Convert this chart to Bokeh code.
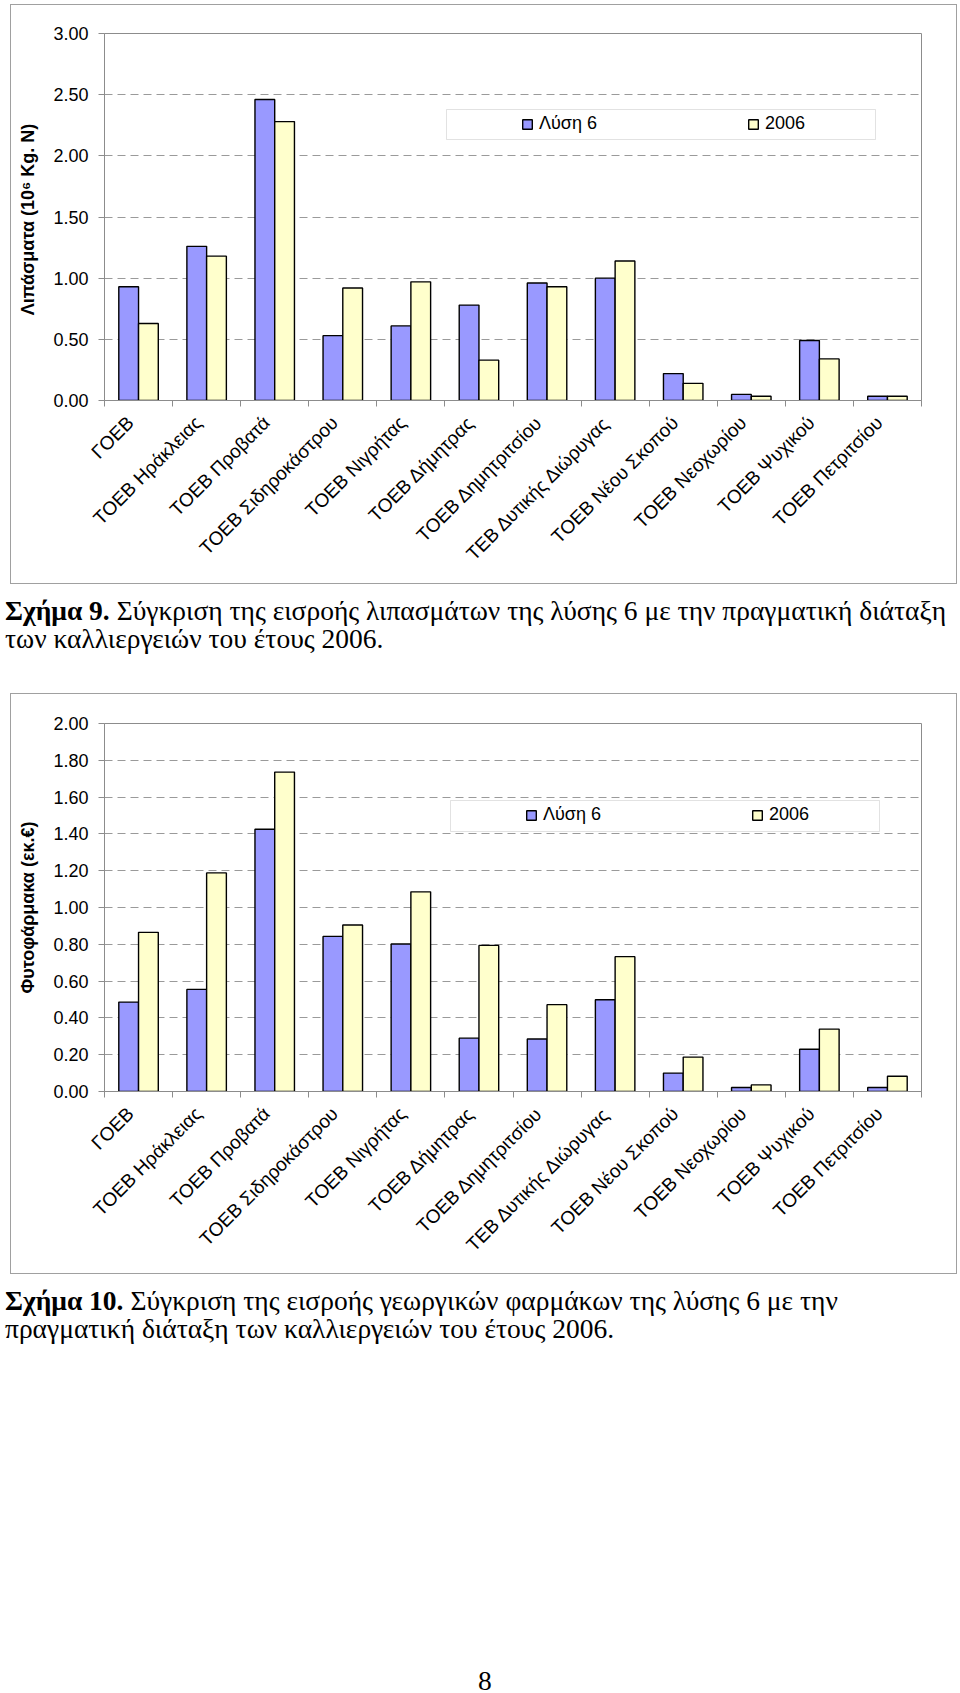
import math
from bokeh.plotting import figure
from bokeh.models import (Range1d, LinearAxis, FixedTicker, SingleIntervalTicker,
                          NumeralTickFormatter, Legend, LegendItem, BoxAnnotation,
                          ColumnDataSource, Div)
from bokeh.transform import dodge
from bokeh.layouts import column
from bokeh.embed import file_html
from bokeh.resources import INLINE

categories = ["ΓΟΕΒ", "ΤΟΕΒ Ηράκλειας", "ΤΟΕΒ Προβατά", "ΤΟΕΒ Σιδηροκάστρου",
              "ΤΟΕΒ Νιγρήτας", "ΤΟΕΒ Δήμητρας", "ΤΟΕΒ Δημητριτσίου",
              "ΤΕΒ Δυτικής Διώρυγας", "ΤΟΕΒ Νέου Σκοπού", "ΤΟΕΒ Νεοχωρίου",
              "ΤΟΕΒ Ψυχικού", "ΤΟΕΒ Πετριτσίου"]

series_names = ["Λύση 6", "2006"]

fert_lysi6 = [0.93, 1.26, 2.46, 0.53, 0.61, 0.78, 0.96, 1.00, 0.22, 0.05, 0.49, 0.035]
fert_2006 = [0.63, 1.18, 2.28, 0.92, 0.97, 0.33, 0.93, 1.14, 0.14, 0.035, 0.34, 0.035]

pest_lysi6 = [0.486, 0.555, 1.425, 0.843, 0.802, 0.29, 0.285, 0.499, 0.10, 0.022, 0.23, 0.022]
pest_2006 = [0.865, 1.188, 1.736, 0.905, 1.085, 0.794, 0.472, 0.733, 0.187, 0.036, 0.339, 0.083]

caption1 = ("<b>Σχήμα 9.</b> Σύγκριση της εισροής λιπασμάτων της λύσης 6 με την πραγματική διάταξη"
            "<br>των καλλιεργειών του έτους 2006.")
caption2 = ("<b>Σχήμα 10.</b> Σύγκριση της εισροής γεωργικών φαρμάκων της λύσης 6 με την"
            "<br>πραγματική διάταξη των καλλιεργειών του έτους 2006.")
page_number = "8"

BLUE = "#9999FF"
YELLOW = "#FFFFCC"
GRAY = "#8c8c8c"
SANS = "Liberation Sans"
SERIF = "Liberation Serif"
LABEL_SHIFT = -0.12   # Excel anchors rotated labels by their top-right corner


def make_chart(vals_a, vals_b, ymax, step, ylabel, height, top, bottom, box, leg_loc, margin):
    n = len(categories)
    centers = [i + 0.5 for i in range(n)]
    src = ColumnDataSource(dict(x=centers, cat=categories, a=vals_a, b=vals_b))
    p = figure(x_range=Range1d(0, n), y_range=Range1d(0, ymax), width=947, height=height,
               x_axis_location=None, toolbar_location=None, output_backend="svg",
               min_border_left=93, min_border_right=37, min_border_top=top,
               min_border_bottom=bottom, background_fill_color="white",
               border_fill_color="white", margin=margin,
               styles={"border": "1px solid #a0a0a0", "box-sizing": "border-box"})

    p.outline_line_color = GRAY
    p.outline_line_width = 1

    r1 = p.vbar(x=dodge("x", -0.145), top="a", width=0.29, source=src,
                fill_color=BLUE, line_color="black", line_width=1.4)
    r2 = p.vbar(x=dodge("x", 0.145), top="b", width=0.29, source=src,
                fill_color=YELLOW, line_color="black", line_width=1.4)

    # y axis
    ya = p.yaxis[0]
    ya.ticker = SingleIntervalTicker(interval=step, num_minor_ticks=0)
    ya.formatter = NumeralTickFormatter(format="0.00")
    ya.major_tick_out = 6
    ya.major_tick_in = 0
    ya.minor_tick_out = 0
    ya.major_tick_line_color = GRAY
    ya.axis_line_color = GRAY
    ya.major_label_text_font = SANS
    ya.major_label_text_font_size = "18px"
    ya.major_label_text_color = "black"
    ya.major_label_standoff = 10
    ya.axis_label = ylabel
    ya.axis_label_text_font = SANS
    ya.axis_label_text_font_size = "18px"
    ya.axis_label_text_font_style = "bold"
    ya.axis_label_text_color = "black"
    ya.axis_label_standoff = 12

    p.ygrid.grid_line_color = "#9a9a9a"
    p.ygrid.grid_line_dash = "8 5"
    p.ygrid.grid_line_width = 1
    p.xgrid.visible = False

    # tick marks between categories
    bounds = list(range(n + 1))
    tick_axis = LinearAxis(ticker=FixedTicker(ticks=bounds, minor_ticks=[]),
                           major_tick_out=6, major_tick_in=0, minor_tick_out=0,
                           major_label_overrides={b: "" for b in bounds},
                           major_label_standoff=0, major_label_text_font_size="1px",
                           axis_line_color=GRAY, major_tick_line_color=GRAY)
    p.add_layout(tick_axis, "below")

    label_pos = [c + LABEL_SHIFT for c in centers]
    cat_axis = LinearAxis(ticker=FixedTicker(ticks=label_pos, minor_ticks=[]),
                          major_label_overrides=dict(zip(label_pos, categories)),
                          major_tick_out=0, major_tick_in=0, minor_tick_out=0,
                          axis_line_color=None, major_tick_line_color=None,
                          major_label_orientation=math.pi / 4,
                          major_label_text_font=SANS,
                          major_label_text_font_size="19px",
                          major_label_text_color="black",
                          major_label_standoff=13)
    p.add_layout(cat_axis, "below")

    # legend
    frame_box = BoxAnnotation(left=box[0], right=box[1], top=box[2], bottom=box[3],
                              left_units="screen", right_units="screen",
                              top_units="screen", bottom_units="screen",
                              fill_color="white", fill_alpha=1.0,
                              line_color="#a0a0a0", line_width=1)
    p.add_layout(frame_box)
    legend = Legend(items=[LegendItem(label=series_names[0], renderers=[r1]),
                           LegendItem(label=series_names[1], renderers=[r2])],
                    orientation="horizontal", location=leg_loc, padding=0, margin=0,
                    spacing=138, glyph_width=12, glyph_height=12, label_standoff=6,
                    label_width=70, label_text_font=SANS, label_text_font_size="18px",
                    label_text_color="black", border_line_color=None,
                    background_fill_alpha=0)
    p.add_layout(legend)
    return p


p1 = make_chart(fert_lysi6, fert_2006, 3.0, 0.5, "Λιπάσματα  (10⁶ Kg. N)", 580, 28, 185,
                (342, 771, 291, 261), (417, 266), (4, 0, 0, 10))
p2 = make_chart(pest_lysi6, pest_2006, 2.0, 0.2, "Φυτοφάρμακα (εκ.€)", 581, 29, 184,
                (346, 775, 291, 260), (421, 266), (0, 0, 0, 10))

cap_style = {"font-family": SERIF, "font-size": "27.5px", "line-height": "28px",
             "color": "black", "white-space": "nowrap"}
d1 = Div(text=caption1, width=955, height=96, margin=(13, 0, 0, 5), styles=cap_style)
d2 = Div(text=caption2, width=955, height=58, margin=(13, 0, 0, 5), styles=cap_style)
d3 = Div(text=page_number, width=40, height=18, margin=(322, 0, 0, 478),
         styles=dict(cap_style))

layout = column(p1, d1, p2, d2, d3, spacing=0)

open("out.html", "w").write(file_html(layout, INLINE))
